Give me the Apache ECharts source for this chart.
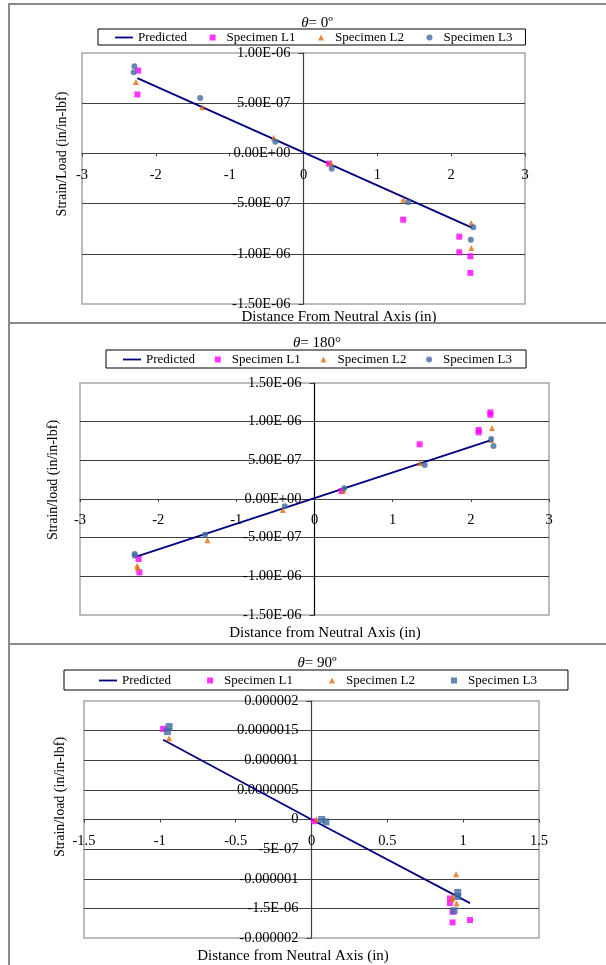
<!DOCTYPE html>
<html><head><meta charset="utf-8">
<script src="https://cdn.jsdelivr.net/npm/echarts@6/dist/echarts.min.js"></script>
<style>
html,body{margin:0;padding:0;background:#fff;}
#wrap{position:relative;width:606px;height:965px;overflow:hidden;background:#fff;}
.c{position:absolute;left:0;width:606px;}
.ln{position:absolute;background:#8a8a8a;pointer-events:none;}
</style></head><body>
<div id="wrap">
<div id="c1" class="c" style="top:0;height:323px"></div>
<div id="c2" class="c" style="top:323px;height:321px"></div>
<div id="c3" class="c" style="top:644px;height:321px"></div>
<div class="ln" style="left:8px;top:3px;width:2px;height:962px"></div>
<div class="ln" style="left:8px;top:3px;width:598px;height:2px"></div>
<div class="ln" style="left:8px;top:322px;width:598px;height:2px"></div>
<div class="ln" style="left:8px;top:643px;width:598px;height:2px"></div>
</div>
<script>
// ---------- theta = 0 ----------
const p1Predicted = [[-2.25, 7.5e-7], [2.28, -7.4e-7]];
const p1L1 = [[-2.24, 8.25e-7], [-2.25, 5.87e-7], [0.346, -1.02e-7], [1.35, -6.6e-7], [2.11, -8.29e-7], [2.11, -9.85e-7], [2.26, -1.025e-6], [2.26, -1.19e-6]];
const p1L2 = [[-2.27, 7.1e-7], [-1.37, 4.59e-7], [-0.403, 1.55e-7], [0.372, -9.6e-8], [1.353, -4.61e-7], [2.27, -6.93e-7], [2.274, -9.41e-7]];
const p1L3 = [[-2.29, 8.68e-7], [-2.30, 8.09e-7], [-1.40, 5.51e-7], [-0.382, 1.16e-7], [0.382, -1.52e-7], [1.42, -4.87e-7], [2.30, -7.36e-7], [2.266, -8.59e-7]];
const p1XTicks = ['-3', '-2', '-1', '0', '1', '2', '3'];
const p1YTicks = ['-1.50E-06', '-1.00E-06', '-5.00E-07', '0.00E+00', '5.00E-07', '1.00E-06'];

// ---------- theta = 180 ----------
const p2Predicted = [[-2.27, -7.41e-7], [2.25, 7.59e-7]];
const p2L1 = [[-2.25, -7.76e-7], [-2.24, -9.48e-7], [0.346, 1.03e-7], [1.345, 7.07e-7], [2.10, 8.92e-7], [2.10, 8.62e-7], [2.25, 1.12e-6], [2.25, 1.09e-6]];
const p2L2 = [[-2.27, -8.62e-7], [-2.26, -8.92e-7], [-1.37, -5.34e-7], [-0.405, -1.42e-7], [0.37, 1.12e-7], [1.35, 4.66e-7], [2.26, 7.63e-7], [2.27, 9.18e-7]];
const p2L3 = [[-2.30, -7.11e-7], [-2.30, -7.33e-7], [-1.40, -4.61e-7], [-0.38, -9.5e-8], [0.38, 1.38e-7], [1.41, 4.4e-7], [2.26, 7.76e-7], [2.29, 6.85e-7]];
const p2XTicks = ['-3', '-2', '-1', '0', '1', '2', '3'];
const p2YTicks = ['-1.50E-06', '-1.00E-06', '-5.00E-07', '0.00E+00', '5.00E-07', '1.00E-06', '1.50E-06'];

// ---------- theta = 90 ----------
const p3Predicted = [[-0.978, 1.345e-6], [0, 0], [1.045, -1.412e-6]];
const p3L1 = [[-0.978, 1.53e-6], [0.016, -3e-8], [0.913, -1.333e-6], [0.913, -1.41e-6], [0.93, -1.558e-6], [0.93, -1.737e-6], [1.045, -1.697e-6]];
const p3L2 = [[-0.939, 1.373e-6], [0.033, 0], [0.953, -9.24e-7], [0.93, -1.305e-6], [0.93, -1.345e-6], [0.957, -1.417e-6]];
const p3L3 = [[-0.939, 1.568e-6], [-0.95, 1.484e-6], [0.067, 0], [0.095, -4e-8], [0.964, -1.23e-6], [0.964, -1.3e-6], [0.94, -1.54e-6]];
const p3XTicks = ['-1.5', '-1', '-0.5', '0', '0.5', '1', '1.5'];
const p3YTicks = ['-0.000002', '-1.5E-06', '-0.000001', '-5E-07', '0', '0.0000005', '0.000001', '0.0000015', '0.000002'];

const FONT = 'Liberation Serif';
const C_PRED = '#000080', C_L1 = '#ff00ff', C_L2 = '#e46c0a', C_L3 = '#3e6aa3';
const ICON = {
  line: 'path://M0,0H18V1.8H0Z',
  rect: 'path://M0,0H1V1H0Z',
  triangle: 'path://M0.5,0L1,1H0Z',
  circle: 'path://M1,0.5A0.5,0.5,0,1,1,0,0.5A0.5,0.5,0,1,1,1,0.5Z'
};

function build(el, cfg) {
  const chart = echarts.init(document.getElementById(el), null, {renderer: 'canvas'});
  const axisCol = '#404040';
  const [gl, gt, gw, gh] = cfg.grid;
  // axes cross at the data origin: shift each axis line from the grid edge to zero
  const xAxisOffset = -gh * (0 - cfg.yMin) / (cfg.yMax - cfg.yMin);
  const yAxisOffset = -gw * (0 - cfg.xMin) / (cfg.xMax - cfg.xMin);
  chart.setOption({
    animation: false,
    backgroundColor: 'transparent',
    title: {
      text: cfg.title, left: 312, top: cfg.titleTop, textAlign: 'center',
      textStyle: {fontFamily: FONT, fontSize: 15, fontWeight: 'normal', color: '#000',
        rich: {i: {fontFamily: FONT, fontSize: 15, fontStyle: 'italic', color: '#000'}}}
    },
    legend: {
      left: cfg.legLeft, top: cfg.legTop, padding: cfg.legPad, itemGap: cfg.legGap,
      itemWidth: 18, itemHeight: 6, symbolKeepAspect: true,
      borderColor: '#000', borderWidth: 1, selectedMode: false,
      textStyle: {fontFamily: FONT, fontSize: 13, color: '#000'},
      data: [
        {name: 'Predicted', icon: ICON.line},
        {name: 'Specimen L1', icon: ICON.rect},
        {name: 'Specimen L2', icon: ICON.triangle},
        {name: 'Specimen L3', icon: ICON[cfg.l3Symbol]}
      ]
    },
    grid: {left: gl, top: gt, width: gw, height: gh,
      show: true, borderColor: '#a6a6a6', borderWidth: 1.5, backgroundColor: 'transparent'},
    xAxis: {
      type: 'value', min: cfg.xMin, max: cfg.xMax, interval: cfg.xInt,
      position: 'bottom', offset: xAxisOffset,
      axisLine: {onZero: false, lineStyle: {color: axisCol, width: 1.2}},
      axisTick: {show: true, length: 3, lineStyle: {color: axisCol}},
      axisLabel: {margin: 14, fontFamily: FONT, fontSize: 14.5, color: '#000',
        formatter: v => cfg.xTicks[Math.round((v - cfg.xMin) / cfg.xInt)]},
      splitLine: {show: false}
    },
    yAxis: {
      type: 'value', min: cfg.yMin, max: cfg.yMax, interval: cfg.yInt,
      position: 'left', offset: yAxisOffset,
      axisLine: {onZero: false, lineStyle: {color: cfg.yAxisCol, width: 1.2}},
      axisTick: {show: true, length: 5, lineStyle: {color: axisCol}},
      axisLabel: {margin: 13, fontFamily: FONT, fontSize: 14.5, color: '#000',
        formatter: v => cfg.yTicks[Math.round((v - cfg.yMin) / cfg.yInt)]},
      splitLine: {show: true, showMinLine: false, showMaxLine: false, lineStyle: {color: axisCol, width: 1}}
    },
    graphic: [
      {type: 'text', x: cfg.xTitle[0], y: cfg.xTitle[1], z: 100,
        style: {text: cfg.xName, fontFamily: FONT, fontSize: 15, fill: '#000', align: 'center', verticalAlign: 'middle'}},
      {type: 'text', x: cfg.yTitle[0], y: cfg.yTitle[1], rotation: Math.PI / 2, z: 100,
        style: {text: cfg.yName, fontFamily: FONT, fontSize: 14, fill: '#000', align: 'center', verticalAlign: 'middle'}}
    ],
    series: [
      {type: 'line', name: 'Predicted', data: cfg.pred, symbol: 'none', showSymbol: false,
        lineStyle: {color: C_PRED, width: 1.8}, itemStyle: {color: C_PRED}, z: 2},
      {type: 'scatter', name: 'Specimen L1', data: cfg.l1, symbol: 'rect', symbolSize: cfg.l1Size,
        itemStyle: {color: C_L1}, z: 3},
      {type: 'scatter', name: 'Specimen L2', data: cfg.l2, symbol: 'triangle', symbolSize: 6,
        itemStyle: {color: C_L2}, z: 4},
      {type: 'scatter', name: 'Specimen L3', data: cfg.l3, symbol: cfg.l3Symbol, symbolSize: cfg.l3Size,
        itemStyle: {color: C_L3}, z: 5}
    ]
  });
}

build('c1', {
  title: '{i|θ}= 0º', titleTop: 11,
  legLeft: 98, legTop: 29, legPad: [2, 13, 1, 17], legGap: 22.5,
  grid: [82, 53, 443, 251],
  xMin: -3, xMax: 3, xInt: 1, xTicks: p1XTicks,
  yMin: -1.5e-6, yMax: 1e-6, yInt: 5e-7, yTicks: p1YTicks, yAxisCol: '#404040',
  xName: 'Distance From Neutral Axis (in)', xTitle: [339, 317],
  yName: 'Strain/Load (in/in-lbf)', yTitle: [62, 154],
  pred: p1Predicted, l1: p1L1, l2: p1L2, l3: p1L3,
  l1Size: 6, l3Symbol: 'circle', l3Size: 6
});
build('c2', {
  title: '{i|θ}= 180°', titleTop: 8,
  legLeft: 106, legTop: 27, legPad: [3, 14, 2, 17], legGap: 19.7,
  grid: [80, 60, 469, 232],
  xMin: -3, xMax: 3, xInt: 1, xTicks: p2XTicks,
  yMin: -1.5e-6, yMax: 1.5e-6, yInt: 5e-7, yTicks: p2YTicks, yAxisCol: '#000',
  xName: 'Distance from Neutral Axis (in)', xTitle: [325, 310],
  yName: 'Strain/load (in/in-lbf)', yTitle: [53, 157],
  pred: p2Predicted, l1: p2L1, l2: p2L2, l3: p2L3,
  l1Size: 6, l3Symbol: 'circle', l3Size: 6
});
build('c3', {
  title: '{i|θ}= 90º', titleTop: 7,
  legLeft: 64, legTop: 26, legPad: [4, 31, 3, 35], legGap: 36,
  grid: [84, 57, 455, 237],
  xMin: -1.5, xMax: 1.5, xInt: 0.5, xTicks: p3XTicks,
  yMin: -2e-6, yMax: 2e-6, yInt: 5e-7, yTicks: p3YTicks, yAxisCol: '#404040',
  xName: 'Distance from Neutral Axis (in)', xTitle: [293, 312],
  yName: 'Strain/load (in/in-lbf)', yTitle: [60, 153],
  pred: p3Predicted, l1: p3L1, l2: p3L2, l3: p3L3,
  l1Size: 6, l3Symbol: 'rect', l3Size: 7
});
</script>
</body></html>
